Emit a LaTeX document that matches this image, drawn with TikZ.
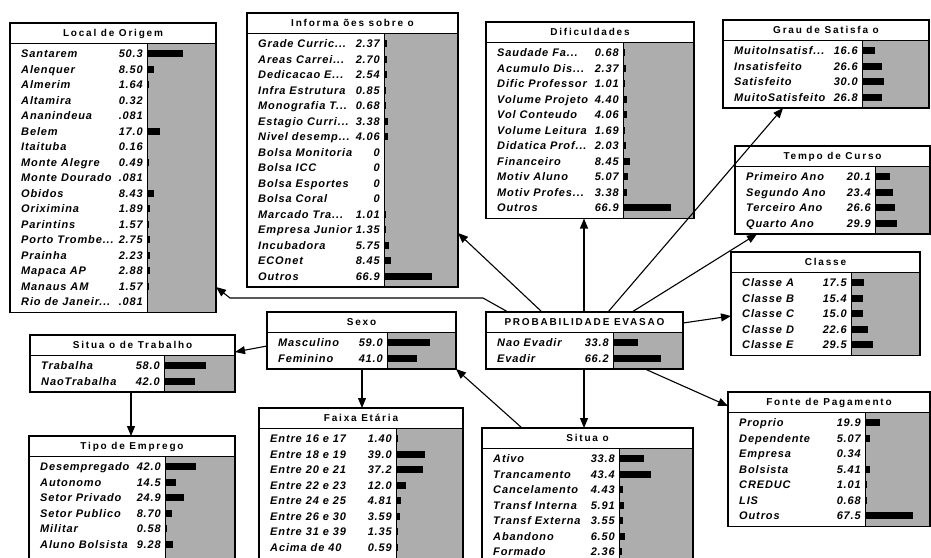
\documentclass[tikz,border=0pt]{standalone}
\usepackage{fontspec}
\setmainfont{Liberation Sans}
\newfontfamily\bnrowfont[LetterSpace=8]{Liberation Sans}
\newfontfamily\bnheadfont[LetterSpace=18]{Liberation Sans}
\usetikzlibrary{arrows.meta}

% truncation mark for long state names
\newcommand\tdots{...}

\tikzset{
  bnshade/.style={fill=black!32},
  bnrule/.style={line width=0.9pt},
  bnframe/.style={draw, line width=1.3pt, inner sep=0pt, outer sep=0pt, rectangle},
  bntitle/.style={inner sep=0pt, anchor=base, font=\bnheadfont\bfseries\fontsize{10}{12}\selectfont},
  bnlabel/.style={inner sep=0pt, anchor=base west, font=\bnrowfont\bfseries\itshape\fontsize{11}{12}\selectfont},
  bnvalue/.style={inner sep=0pt, anchor=base east, font=\bnrowfont\bfseries\itshape\fontsize{11}{12}\selectfont},
  bnbar/.style={fill=black},
  link/.style={line width=1.1pt, -{Triangle[length=10pt,width=8pt]}},
}

% \bnbox{name}{left}{top}{right}{divider}{slots}{title}{label/value,...}
\newcommand\bnbox[8]{%
  \pgfmathsetmacro\bnL{#2}%
  \pgfmathsetmacro\bnT{#3}%
  \pgfmathsetmacro\bnR{#4}%
  \pgfmathsetmacro\bnD{#5}%
  \pgfmathsetmacro\bnTB{\bnT+20}%
  \pgfmathsetmacro\bnB{\bnTB+6+#6*15.5}%
  \pgfmathsetmacro\bnW{\bnR-\bnL}%
  \pgfmathsetmacro\bnH{\bnB-\bnT}%
  \fill[white] (\bnL,\bnT) rectangle (\bnR,\bnB);
  \fill[bnshade] (\bnD,\bnTB) rectangle (\bnR,\bnB);
  \draw[bnrule] (\bnL,\bnTB) -- (\bnR,\bnTB);
  \draw[bnrule] (\bnD,\bnTB) -- (\bnD,\bnB);
  \node[bntitle] (#1-title) at ({(\bnL+\bnR)/2},{\bnT+13.6}) {#7};
  \foreach \lab/\val [count=\i] in {#8}{
    \pgfmathsetmacro\bnY{\bnTB+3+(\i-0.5)*15.5}
    \pgfmathsetmacro\bnLen{\val*0.7+ifthenelse(\val>0,1.2,0)}
    \node[bnlabel] (#1-l\i) at ({\bnL+11},{\bnY+4}) {\lab};
    \node[bnvalue] (#1-v\i) at ({\bnD-4},{\bnY+4}) {\val};
    \fill[bnbar] (\bnD,{\bnY-3.5}) rectangle ({\bnD+\bnLen},{\bnY+3.5});
  }
  \node[bnframe, minimum width=\bnW pt, minimum height=\bnH pt, anchor=north west] (#1) at (\bnL,\bnT) {};
}

\begin{document}
\begin{tikzpicture}[x=1pt,y=-1pt]
\useasboundingbox (0,0) rectangle (931,557);
\clip (0,0) rectangle (931,557);
\fill[white] (0,0) rectangle (931,557);

\bnbox{loc}{10}{23}{216}{147}{17}{Local de Origem}{
  Santarem/50.3, Alenquer/8.50, Almerim/1.64, Altamira/0.32, Ananindeua/.081,
  Belem/17.0, Itaituba/0.16, Monte Alegre/0.49, Monte Dourado/.081, Obidos/8.43,
  Oriximina/1.89, Parintins/1.57, Porto Trombe\tdots/2.75, Prainha/2.23,
  Mapaca AP/2.88, Manaus AM/1.57, Rio de Janeir\tdots/.081}

\bnbox{info}{247}{13}{458}{384}{16}{Informa ões sobre o}{
  Grade Curric\tdots/2.37, Areas Carrei\tdots/2.70, Dedicacao E\tdots/2.54,
  Infra Estrutura/0.85, Monografia T\tdots/0.68, Estagio Curri\tdots/3.38,
  Nivel desemp\tdots/4.06, Bolsa Monitoria/0, Bolsa ICC/0, Bolsa Esportes/0,
  Bolsa Coral/0, Marcado Tra\tdots/1.01, Empresa Junior/1.35, Incubadora/5.75,
  ECOnet/8.45, Outros/66.9}

\bnbox{dif}{486}{22}{694}{623}{11}{Dificuldades}{
  Saudade Fa\tdots/0.68, Acumulo Dis\tdots/2.37, Dific Professor/1.01,
  Volume Projeto/4.40, Vol Conteudo/4.06, Volume Leitura/1.69,
  Didatica Prof\tdots/2.03, Financeiro/8.45, Motiv Aluno/5.07,
  Motiv Profes\tdots/3.38, Outros/66.9}

\bnbox{grau}{723}{20}{929}{862}{4}{Grau de Satisfa o}{
  MuitoInsatisf\tdots/16.6, Insatisfeito/26.6, Satisfeito/30.0, MuitoSatisfeito/26.8}

\bnbox{tempo}{735}{146}{930}{875}{4}{Tempo de Curso}{
  Primeiro Ano/20.1, Segundo Ano/23.4, Terceiro Ano/26.6, Quarto Ano/29.9}

\bnbox{classe}{731}{252}{920}{851}{5}{Classe}{
  Classe A/17.5, Classe B/15.4, Classe C/15.0, Classe D/22.6, Classe E/29.5}

\bnbox{sexo}{267}{312}{456}{387}{2}{Sexo}{
  Masculino/59.0, Feminino/41.0}

\bnbox{prob}{486}{312}{683}{613}{2}{PROBABILIDADE EVASAO}{
  Nao Evadir/33.8, Evadir/66.2}

\bnbox{sittrab}{30}{335}{235}{164}{2}{Situa o de Trabalho}{
  Trabalha/58.0, NaoTrabalha/42.0}

\bnbox{tipo}{29}{436}{235}{165}{7}{Tipo de Emprego}{
  Desempregado/42.0, Autonomo/14.5, Setor Privado/24.9, Setor Publico/8.70,
  Militar/0.58, Aluno Bolsista/9.28}

\bnbox{faixa}{259}{408}{463}{396}{9}{Faixa Etária}{
  Entre 16 e 17/1.40, Entre 18 e 19/39.0, Entre 20 e 21/37.2, Entre 22 e 23/12.0,
  Entre 24 e 25/4.81, Entre 26 e 30/3.59, Entre 31 e 39/1.35, Acima de 40/0.59}

\bnbox{sit}{482}{428}{693}{619}{8}{Situa o}{
  Ativo/33.8, Trancamento/43.4, Cancelamento/4.43, Transf Interna/5.91,
  Transf Externa/3.55, Abandono/6.50, Formado/2.36}

\bnbox{fonte}{728}{392}{930}{865}{7}{Fonte de Pagamento}{
  Proprio/19.9, Dependente/5.07, Empresa/0.34, Bolsista/5.41, CREDUC/1.01,
  LIS/0.68, Outros/67.5}

% links between the variables
\draw[link] (prob.north -| 508,0) -- (483,298) -- (230,298) -- (loc.east |- 0,287);
\draw[link] (prob.north -| 542,0) -- (info.east |- 0,233);
\draw[link] (prob.north -| 584,0) -- (dif.south -| 584,0);
\draw[link] (prob.north -| 608,0) -- (grau.south -| 783,0);
\draw[link] (prob.north -| 632,0) -- (tempo.south -| 757,0);
\draw[link] (prob.east |- 0,323) -- (classe.west |- 0,316);
\draw[link] (prob.south -| 645,0) -- (fonte.west |- 0,406);
\draw[link] (prob.south -| 584,0) -- (sit.north -| 584,0);
\draw[link] (sit.north -| 522,0) -- (sexo.south east);
\draw[link] (sexo.south -| 362,0) -- (faixa.north -| 362,0);
\draw[link] (sittrab.south -| 131,0) -- (tipo.north -| 131,0);
\draw[link] (sexo.west |- 0,346) -- (sittrab.east |- 0,352);
\end{tikzpicture}
\end{document}
